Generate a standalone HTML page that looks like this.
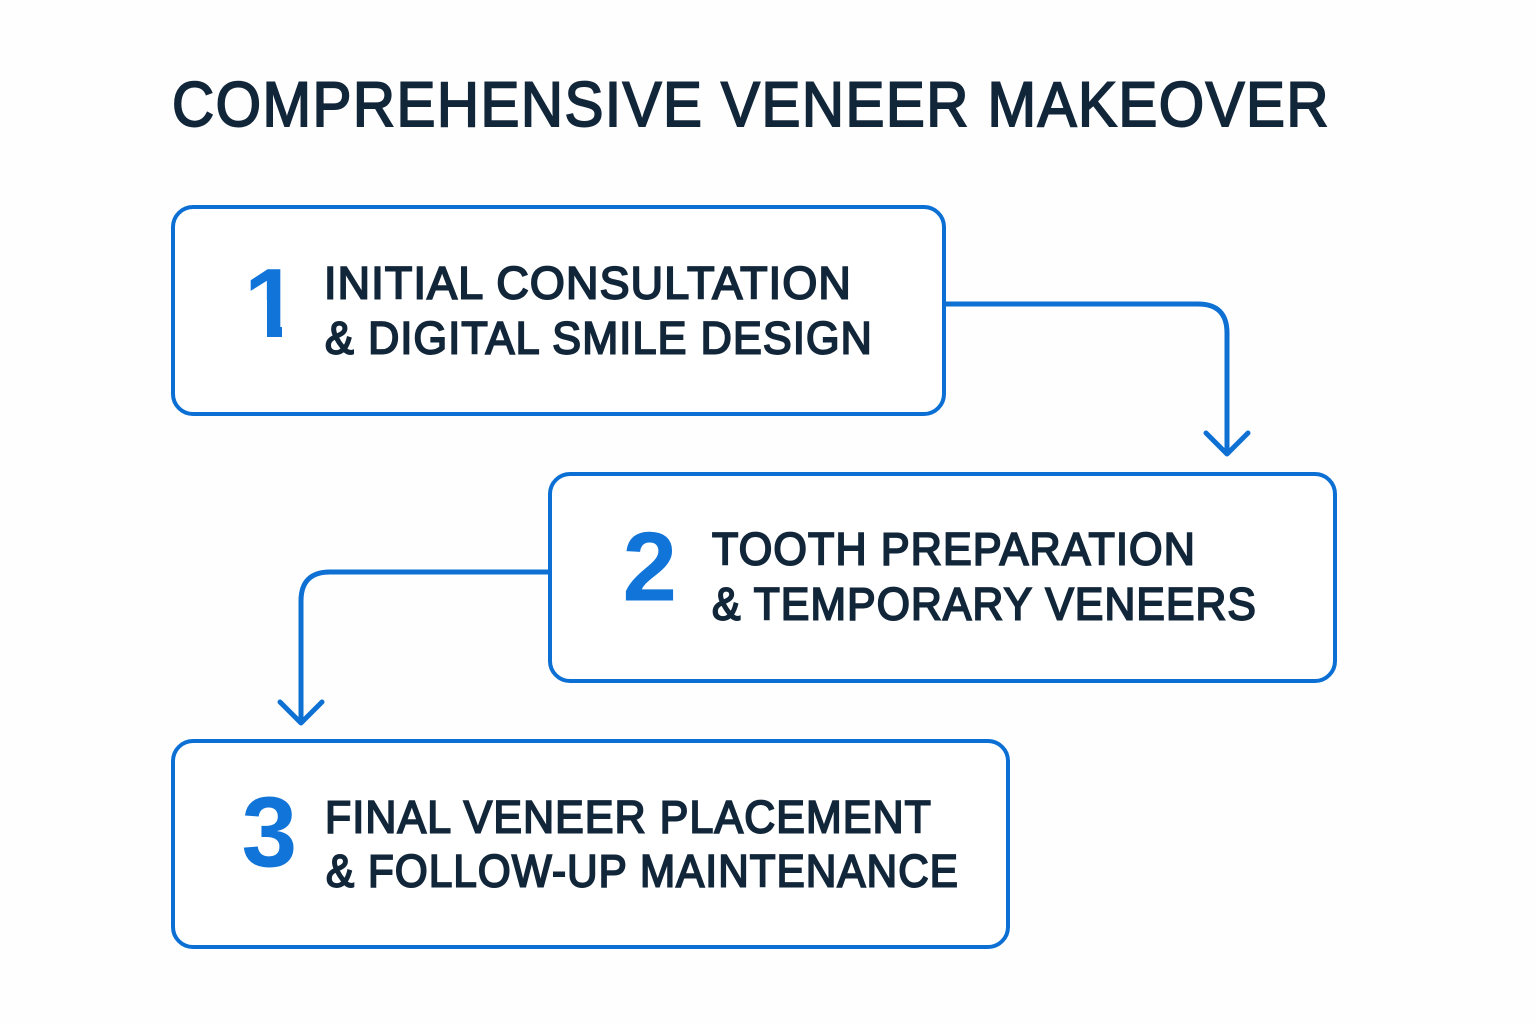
<!DOCTYPE html>
<html><head><meta charset="utf-8"><style>
html,body{margin:0;padding:0;background:#fefefe;width:1536px;height:1024px;overflow:hidden}
svg{display:block}
text{font-family:"Liberation Sans",sans-serif}
.t{font-size:45px;letter-spacing:1.2px;fill:#12263a;stroke:#12263a;stroke-width:1.9px}
.n{font-size:98px;font-weight:bold;fill:#1174d9}
.b{fill:#fff;stroke:#0b6fd3;stroke-width:4}
.c{fill:none;stroke:#0f70d4;stroke-width:5;stroke-linecap:round;stroke-linejoin:round}
</style></head><body>
<svg width="1536" height="1024" viewBox="0 0 1536 1024" xmlns="http://www.w3.org/2000/svg">
<defs><clipPath id="one"><polygon points="240,255 282,255 282,338 267,338 267,300 240,300"/></clipPath></defs>
<rect width="1536" height="1024" fill="#fefefe"/>
<text x="172" y="126" textLength="1158" lengthAdjust="spacingAndGlyphs" style="font-size:63.5px;letter-spacing:1.6px;fill:#12263a;stroke:#12263a;stroke-width:1.9px">COMPREHENSIVE VENEER MAKEOVER</text>

<rect class="b" x="173" y="207" width="771" height="207" rx="20"/>
<rect class="b" x="550" y="474" width="785" height="207" rx="20"/>
<rect class="b" x="173" y="741" width="835" height="206" rx="20"/>

<path class="c" style="stroke-linecap:butt" d="M945 304H1198Q1227 304 1227 333V452"/>
<path class="c" d="M1206 433L1227 454L1248 433"/>
<path class="c" style="stroke-linecap:butt" d="M549 572H330Q301 572 301 601V720"/>
<path class="c" d="M280 702L301 723L322 702"/>

<g clip-path="url(#one)"><text class="n" x="244" y="337">1</text></g>
<text class="n" x="622.5" y="600.5">2</text>
<text class="n" x="241.5" y="866.5" style="font-size:100px">3</text>

<text class="t" x="324" y="298.5" textLength="528" lengthAdjust="spacingAndGlyphs">INITIAL CONSULTATION</text>
<text class="t" x="325" y="353.5" textLength="548" lengthAdjust="spacingAndGlyphs">&amp; DIGITAL SMILE DESIGN</text>
<text class="t" x="712" y="564.5" textLength="484" lengthAdjust="spacingAndGlyphs">TOOTH PREPARATION</text>
<text class="t" x="712" y="619.5" textLength="545" lengthAdjust="spacingAndGlyphs">&amp; TEMPORARY VENEERS</text>
<text class="t" x="325" y="832.5" textLength="607" lengthAdjust="spacingAndGlyphs">FINAL VENEER PLACEMENT</text>
<text class="t" x="326" y="886.5" textLength="633" lengthAdjust="spacingAndGlyphs">&amp; FOLLOW-UP MAINTENANCE</text>
</svg>
</body></html>
